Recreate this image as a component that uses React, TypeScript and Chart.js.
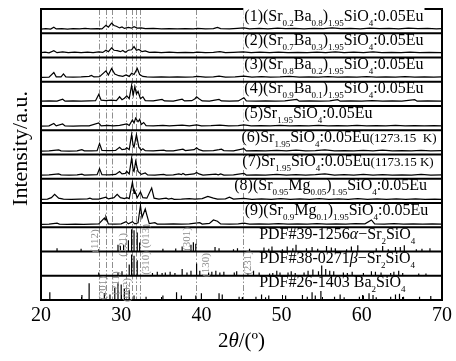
import React, { useEffect, useRef } from 'react';
import { Chart, registerables } from 'chart.js';

Chart.register(...registerables);

// ---------- data ----------
const xMin = 20;
const xMax = 70;
const xTickValues = [20, 30, 40, 50, 60, 70];
const refLines = [27.2, 28.15, 28.8, 30.65, 31.35, 31.85, 32.3, 39.35, 45.2];

// spectra: [2theta, relative intensity within panel (0..1)]
const sample1: [number, number][] = [
  [20, .17], [20.6, .19], [21.2, .17], [21.6, .25], [21.9, .18], [22.6, .19], [23.3, .17], [24, .19], [24.8, .18], [25.5, .2],
  [26.2, .18], [27, .19], [27.6, .18], [28.1, .33], [28.4, .25], [28.8, .42], [29.1, .32], [29.4, .29], [29.8, .22], [30.1, .26],
  [30.4, .2], [30.9, .24], [31.3, .21], [31.6, .27], [32, .21], [32.5, .22], [33, .19], [34, .2], [35, .18], [36, .19],
  [37, .18], [38, .19], [39, .18], [39.5, .2], [40.5, .18], [41.5, .19], [42, .24], [42.4, .19], [43.5, .18], [44.5, .2],
  [45.3, .22], [46, .18], [47.2, .2], [48.3, .18], [49.5, .21], [50.5, .19], [51.6, .2], [52.8, .18], [54, .2], [55.2, .19],
  [56.3, .22], [57.4, .19], [58.6, .2], [59.8, .18], [61, .21], [62.2, .19], [63.4, .2], [64.6, .18], [65.8, .21], [67, .19],
  [68.2, .2], [69.3, .18], [70, .19],
];
const sample2: [number, number][] = [
  [20, .2], [20.5, .22], [21, .19], [21.6, .28], [22, .2], [22.7, .23], [23.4, .2], [24.2, .22], [25, .2], [25.8, .22],
  [26.5, .2], [27.2, .23], [27.7, .21], [28.1, .3], [28.4, .24], [28.8, .4], [29.1, .3], [29.5, .28], [29.9, .24], [30.2, .29],
  [30.5, .22], [30.9, .3], [31.3, .32], [31.6, .45], [31.9, .3], [32.2, .33], [32.6, .24], [33, .27], [33.5, .21], [34.2, .22],
  [35, .2], [36, .22], [37, .2], [38, .21], [39, .2], [39.5, .22], [40.5, .2], [41.5, .21], [42.3, .24], [43, .2],
  [44, .21], [45.2, .23], [46.2, .2], [47.3, .22], [48.5, .2], [49.6, .22], [50.8, .2], [52, .21], [53.2, .2], [54.4, .22],
  [55.5, .2], [56.7, .23], [57.8, .2], [59, .22], [60.2, .2], [61.4, .23], [62.5, .2], [63.7, .21], [64.9, .2], [66, .22],
  [67.2, .2], [68.4, .21], [70, .2],
];
const sample3: [number, number][] = [
  [20, .18], [21, .19], [21.6, .38], [21.9, .2], [22.5, .2], [22.8, .32], [23.1, .2], [24, .19], [25, .2], [26, .22],
  [26.3, .26], [26.6, .2], [27.3, .21], [28.1, .45], [28.4, .28], [28.8, .55], [29.2, .32], [29.7, .25], [30.2, .22], [30.6, .28],
  [31, .22], [31.3, .35], [31.6, .3], [32, .55], [32.3, .3], [32.7, .22], [33.2, .2], [34, .19], [35, .2], [36, .19],
  [37, .2], [38, .19], [39, .2], [39.5, .22], [40.5, .19], [41.5, .2], [42.2, .23], [43, .19], [44.2, .2], [45.3, .23],
  [46.3, .19], [47.5, .21], [48.6, .19], [49.8, .2], [51, .22], [52.2, .19], [53.4, .2], [54.6, .19], [55.8, .21], [57, .19],
  [58.2, .2], [59.4, .19], [60.6, .21], [61.8, .19], [63, .2], [64.2, .19], [65.4, .21], [66.6, .19], [67.8, .2], [69, .19],
  [70, .2],
];
const sample4: [number, number][] = [
  [20, .2], [21, .21], [22, .2], [22.7, .28], [23, .2], [24, .21], [25, .2], [26, .21], [26.8, .22], [27.2, .48],
  [27.5, .24], [28.1, .22], [28.8, .24], [29.4, .22], [29.8, .38], [30.1, .26], [30.4, .32], [30.7, .42], [31, .3], [31.3, .85],
  [31.5, .45], [31.7, .8], [31.9, .5], [32.1, .6], [32.4, .3], [32.7, .38], [33, .22], [34, .21], [35.1, .27], [35.4, .21],
  [36.5, .2], [37.6, .28], [37.9, .21], [38.8, .22], [39.2, .3], [39.4, .38], [39.7, .3], [40.1, .21], [41, .2], [42.2, .27],
  [42.5, .21], [43.5, .2], [44.6, .21], [45.3, .34], [45.6, .21], [46.8, .2], [48, .21], [49.2, .2], [50.4, .21], [51.9, .27],
  [52.2, .2], [53.5, .21], [54.8, .2], [56, .21], [57, .26], [57.3, .2], [58.6, .21], [60, .2], [61.3, .22], [62.6, .2],
  [63.8, .21], [65, .2], [66.6, .26], [66.9, .2], [68.2, .21], [70, .2],
];
const sample5: [number, number][] = [
  [20, .17], [21, .18], [21.6, .28], [21.9, .18], [22.7, .26], [23, .18], [24, .17], [25, .18], [26, .18], [27.2, .3],
  [27.5, .18], [28.3, .2], [29, .18], [29.8, .2], [30.7, .26], [31, .2], [31.4, .42], [31.6, .3], [31.8, .5], [32.1, .35],
  [32.3, .45], [32.5, .24], [32.8, .32], [33.1, .19], [34, .18], [35.2, .2], [36, .18], [37.6, .21], [38.5, .18], [39.4, .22],
  [40, .18], [41.2, .19], [42.3, .21], [43.4, .18], [44.6, .19], [45.3, .22], [46.2, .18], [47.4, .19], [48.6, .18], [49.8, .2],
  [51, .18], [52.2, .19], [53.4, .18], [54.6, .2], [55.8, .18], [57, .19], [58.2, .18], [59.4, .2], [60.6, .18], [61.8, .19],
  [63, .18], [64.2, .2], [65.4, .18], [66.6, .19], [67.8, .18], [69, .19], [70, .18],
];
const sample6: [number, number][] = [
  [20, .14], [21, .15], [22.2, .19], [22.5, .15], [23.5, .14], [24.5, .15], [25.1, .2], [25.4, .15], [26.3, .15], [27, .16],
  [27.3, .45], [27.6, .17], [28.5, .16], [29.3, .17], [29.8, .3], [30.1, .2], [30.5, .22], [30.7, .28], [31, .2], [31.3, .82],
  [31.5, .35], [31.6, .3], [31.9, .82], [32.2, .3], [32.5, .18], [32.7, .24], [33, .16], [34, .15], [35.3, .18], [35.6, .15],
  [36.5, .15], [37.7, .22], [38, .16], [39.1, .2], [39.4, .28], [39.7, .2], [40.2, .15], [41.5, .16], [42.2, .2], [42.5, .22],
  [42.8, .16], [44, .15], [45.3, .24], [45.6, .15], [46.8, .16], [48, .15], [49.4, .17], [50.6, .15], [51.8, .18], [53, .15],
  [54.2, .16], [55.4, .19], [56.6, .15], [57.8, .16], [59, .15], [60.2, .17], [61.4, .15], [62.6, .18], [63.8, .15], [65, .16],
  [66.2, .15], [67.4, .17], [68.6, .15], [70, .16],
];
const sample7: [number, number][] = [
  [20, .15], [21, .16], [22.2, .2], [22.5, .16], [23.5, .15], [24.5, .16], [25.1, .19], [25.4, .15], [26.3, .16], [27, .17],
  [27.3, .42], [27.6, .17], [28.5, .16], [29.3, .18], [29.8, .3], [30.1, .2], [30.5, .22], [30.7, .3], [31, .2], [31.3, .85],
  [31.5, .35], [31.6, .3], [31.8, .72], [32.1, .3], [32.5, .18], [33, .24], [33.3, .16], [34.2, .15], [35.3, .18], [35.6, .15],
  [36.5, .16], [37.2, .2], [37.5, .17], [37.7, .22], [38, .16], [39.1, .2], [39.4, .26], [39.7, .2], [40.2, .15], [41.8, .19],
  [42.1, .16], [42.4, .2], [42.8, .15], [44, .16], [45.3, .22], [45.6, .15], [46.8, .16], [48, .15], [49.4, .18], [50.6, .15],
  [51.8, .17], [53, .15], [54.2, .17], [55.4, .2], [56.6, .15], [57.8, .17], [59, .15], [60.2, .18], [61.4, .15], [62.6, .17],
  [63.8, .15], [65, .16], [66.2, .15], [67.4, .18], [68.6, .15], [70, .16],
];
const sample8: [number, number][] = [
  [20, .15], [20.8, .16], [21.3, .22], [21.7, .36], [22.2, .2], [22.8, .16], [23.8, .15], [24.8, .16], [25.8, .17], [26.1, .2],
  [26.4, .16], [27.2, .16], [28.1, .24], [28.4, .17], [29.1, .22], [29.5, .36], [29.9, .22], [30.4, .18], [30.7, .22], [31, .18],
  [31.4, .86], [31.6, .4], [31.7, .5], [32, .22], [32.4, .46], [32.7, .22], [33.2, .2], [33.8, .62], [34.1, .2], [34.7, .16],
  [35.6, .2], [35.9, .16], [36.3, .19], [36.6, .15], [37.5, .16], [38.5, .18], [39.2, .16], [40.1, .18], [40.8, .27], [41.5, .2],
  [42, .16], [43, .17], [43.5, .24], [44, .16], [45.3, .19], [46.3, .15], [47.5, .17], [48.7, .15], [49.9, .18], [51.1, .15],
  [52.3, .17], [53.5, .15], [54.7, .18], [55.9, .15], [57.1, .17], [58.3, .15], [59.5, .18], [60.7, .15], [61.9, .17], [63.1, .15],
  [64.3, .17], [65.5, .15], [66.7, .17], [67.9, .15], [69.1, .16], [70, .15],
];
const sample9: [number, number][] = [
  [20, .12], [21, .13], [22, .17], [22.3, .13], [23.3, .12], [24.3, .13], [25.3, .12], [26.3, .13], [27.2, .14], [27.9, .38],
  [28, .3], [28.1, .42], [28.4, .14], [29.2, .13], [30, .14], [30.6, .23], [30.9, .14], [31.4, .23], [31.7, .14], [32.1, .18],
  [32.4, .9], [32.6, .4], [33, .75], [33.2, .5], [33.5, .15], [34.2, .19], [34.5, .13], [35.4, .13], [36.5, .14], [37.5, .13],
  [38.5, .14], [39.8, .19], [40.1, .13], [41, .16], [41.5, .3], [42, .25], [42.4, .14], [43.5, .13], [44.6, .14], [45.3, .17],
  [46, .13], [47.2, .14], [48.4, .13], [49.6, .15], [50.8, .13], [52, .14], [53.2, .13], [54.4, .15], [55.6, .13], [56.8, .14],
  [58, .13], [59.2, .15], [60.4, .14], [61.2, .3], [61.6, .14], [62.8, .13], [64, .15], [65.2, .13], [66.4, .14], [67.6, .13],
  [68.8, .14], [70, .13],
];

// reference stick patterns: [2theta, relative height]
const pdf39: [number, number][] = [
  [22, .15], [25, .12], [27.2, .1], [29.6, .3], [29.9, .26], [30.3, .3], [30.9, .5], [31.3, 1.0], [31.6, .95], [32, .85],
  [32.3, .4], [35.2, .12], [36.8, .13], [37.6, .22], [38.7, .3], [39, .42], [39.3, .35], [41.7, .2], [42.2, .15], [44, .1],
  [44.5, .15], [46, .12], [47.8, .18], [48.4, .12], [48.8, .22], [50.1, .1], [50.7, .22], [51.4, .15], [51.8, .3], [53.1, .15],
  [53.8, .2], [54.5, .12], [55.6, .25], [56.2, .18], [56.7, .15], [58.1, .1], [58.7, .22], [59.5, .28], [61.8, .15], [62.6, .25],
  [63.3, .1], [64.2, .2], [64.8, .2], [65.3, .28], [66.8, .1], [67.5, .12], [68.5, .15],
];
const pdf38: [number, number][] = [
  [27.2, .15], [29.6, .15], [30.1, .2], [31, .5], [31.3, .95], [31.6, .9], [32, .7], [33.9, .12], [34.5, .18], [35.1, .12],
  [35.5, .15], [36.1, .18], [36.7, .12], [37.6, .3], [38.2, .15], [38.7, .22], [39.4, .55], [39.8, .22], [40.9, .15], [41.3, .18],
  [41.8, .22], [42.3, .15], [42.8, .18], [44.1, .15], [44.4, .2], [45.8, .12], [46.5, .22], [47.2, .15], [48.5, .1], [48.9, .12],
  [49.4, .22], [49.8, .15], [50.8, .15], [51.2, .2], [51.7, .12], [52.8, .15], [53.3, .22], [53.9, .28], [54.6, .2], [55, .5],
  [55.5, .3], [56, .22], [56.5, .2], [57.7, .15], [58.2, .12], [58.8, .18], [60.2, .12], [61.2, .2], [61.7, .18], [62.4, .15],
  [63.6, .12], [64, .18], [64.6, .22], [65.1, .12], [67.1, .1], [68, .1],
];
const pdf26: [number, number][] = [
  [21.1, .35], [25.1, .22], [26, .75], [27.9, .3], [28.6, .25], [29.2, .55], [29.6, .75], [30, .7], [30.4, .5], [31, .45],
  [31.6, .2], [33.1, .15], [35.2, .2], [36.9, .35], [37.5, .2], [39.3, .2], [40, .3], [42.2, .3], [42.6, .25], [44.7, .15],
  [45.1, .12], [46.8, .15], [47.5, .25], [48, .12], [48.4, .2], [50.5, .2], [52.6, .22], [53.2, .15], [53.8, .35], [54.2, .2],
  [54.9, .4], [56.6, .15], [57.3, .25], [57.8, .12], [59.7, .15], [60.2, .2], [60.9, .3], [61.4, .22], [61.8, .12], [63.6, .15],
  [64.2, .25], [64.7, .28], [65.2, .15], [67.2, .15], [68.6, .18],
];

// label text runs: style 0 normal, 1 subscript, 2 small, 3 italic
type Run = [string, number];
const label1: Run[] = [['(1)(Sr', 0], ['0.2', 1], ['Ba', 0], ['0.8', 1], [')', 0], ['1.95', 1], ['SiO', 0], ['4', 1], [':0.05Eu', 0]];
const label2: Run[] = [['(2)(Sr', 0], ['0.7', 1], ['Ba', 0], ['0.3', 1], [')', 0], ['1.95', 1], ['SiO', 0], ['4', 1], [':0.05Eu', 0]];
const label3: Run[] = [['(3)(Sr', 0], ['0.8', 1], ['Ba', 0], ['0.2', 1], [')', 0], ['1.95', 1], ['SiO', 0], ['4', 1], [':0.05Eu', 0]];
const label4: Run[] = [['(4)(Sr', 0], ['0.9', 1], ['Ba', 0], ['0.1', 1], [')', 0], ['1.95', 1], ['SiO', 0], ['4', 1], [':0.05Eu', 0]];
const label5: Run[] = [['(5)Sr', 0], ['1.95', 1], ['SiO', 0], ['4', 1], [':0.05Eu', 0]];
const label6: Run[] = [['(6)Sr', 0], ['1.95', 1], ['SiO', 0], ['4', 1], [':0.05Eu', 0], ['(1273.15  K)', 2]];
const label7: Run[] = [['(7)Sr', 0], ['1.95', 1], ['SiO', 0], ['4', 1], [':0.05Eu', 0], ['(1173.15 K)', 2]];
const label8: Run[] = [['(8)(Sr', 0], ['0.95', 1], ['Mg', 0], ['0.05', 1], [')', 0], ['1.95', 1], ['SiO', 0], ['4', 1], [':0.05Eu', 0]];
const label9: Run[] = [['(9)(Sr', 0], ['0.9', 1], ['Mg', 0], ['0.1', 1], [')', 0], ['1.95', 1], ['SiO', 0], ['4', 1], [':0.05Eu', 0]];
const label10: Run[] = [['PDF#39-1256', 0], ['α', 3], ['−Sr', 0], ['2', 1], ['SiO', 0], ['4', 1]];
const label11: Run[] = [['PDF#38-0271', 0], ['β', 3], ['−Sr', 0], ['2', 1], ['SiO', 0], ['4', 1]];
const label12: Run[] = [['PDF#26-1403 Ba', 0], ['2', 1], ['SiO', 0], ['4', 1]];
const panelLabels = [label1, label2, label3, label4, label5, label6, label7, label8, label9, label10, label11, label12];
const labelStart = [45.35, 45.35, 45.35, 45.35, 45.35, 45.0, 45.1, 44.1, 45.4, 47.2, 47.2, 47.2];

// Miller index annotations: [text, 2theta, y in panel units]
const hklText = ['(112)', '(121)', '(013)', '(310)', '(301)', '(130)', '(231)', '(201)', '(211)', '(002)'];
const hklX = [26.7, 30.2, 33.15, 33.15, 38.24, 40.6, 45.8, 27.7, 29.4, 30.7];
const hklY = [2.43, 2.27, 2.64, 1.53, 2.52, 1.44, 1.53, 0.5, 0.7, 0.41];

const spectra = [sample1, sample2, sample3, sample4, sample5, sample6, sample7, sample8, sample9];
const sticks = [pdf39, pdf38, pdf26];
const nPanels = 12;

const SERIF = '"Liberation Serif", "Times New Roman", serif';
const runFonts = [`16px ${SERIF}`, `9px ${SERIF}`, `13px ${SERIF}`, `italic 16px ${SERIF}`];

function runsWidth(ctx: CanvasRenderingContext2D, runs: Run[]) {
  let w = 0;
  for (const [t, s] of runs) { ctx.font = runFonts[s]; w += ctx.measureText(t).width; }
  return w;
}
function drawRuns(ctx: CanvasRenderingContext2D, runs: Run[], x0: number, base: number) {
  let x = x0;
  for (const [t, s] of runs) {
    ctx.font = runFonts[s];
    ctx.fillText(t, x, base + (s === 1 ? 5 : 0));
    x += ctx.measureText(t).width;
  }
}

const overlay = {
  id: 'overlay',
  beforeDatasetsDraw(chart: any) {
    const { ctx, chartArea: a, scales } = chart;
    const x = scales.x;
    ctx.save();
    ctx.strokeStyle = '#8f8f8f';
    ctx.lineWidth = 1;
    ctx.setLineDash([6, 2, 1.5, 2]);
    for (const d of refLines) {
      const px = Math.round(x.getPixelForValue(d)) + 0.5;
      ctx.beginPath(); ctx.moveTo(px, a.top); ctx.lineTo(px, a.bottom); ctx.stroke();
    }
    ctx.restore();
  },
  afterDatasetsDraw(chart: any) {
    const { ctx, chartArea: a, scales } = chart;
    const x = scales.x, y = scales.y;
    ctx.save();
    ctx.strokeStyle = '#000';
    ctx.lineWidth = 2;
    ctx.beginPath(); ctx.moveTo(a.left, a.top); ctx.lineTo(a.right, a.top); ctx.stroke();
    ctx.fillStyle = '#000';
    ctx.textBaseline = 'alphabetic';
    ctx.textAlign = 'left';
    panelLabels.forEach((runs, k) => {
      const top = y.getPixelForValue(nPanels - k);
      const base = top + 11.5;
      const x0 = x.getPixelForValue(labelStart[k]);
      const w = runsWidth(ctx, runs);
      ctx.fillStyle = '#fff';
      const bt = k === 0 ? 0 : top + 1.5;
      ctx.fillRect(x0 - 1, bt, w + 2, base + 2.5 - bt);
      ctx.fillStyle = '#000';
      drawRuns(ctx, runs, x0, base);
    });
    ctx.strokeStyle = '#000';
    ctx.lineWidth = 2;
    for (let v = 0; v < nPanels; v++) {
      const py = y.getPixelForValue(v);
      ctx.beginPath(); ctx.moveTo(a.left, py); ctx.lineTo(a.right, py); ctx.stroke();
    }
    ctx.beginPath(); ctx.moveTo(a.left, a.top - 1); ctx.lineTo(a.left, a.bottom + 1); ctx.stroke();
    ctx.beginPath(); ctx.moveTo(a.right, a.top - 1); ctx.lineTo(a.right, a.bottom + 1); ctx.stroke();
    ctx.lineWidth = 1;
    for (let d = xMin; d <= xMax; d += 5) {
      const px = Math.round(x.getPixelForValue(d)) + 0.5;
      const len = d % 10 === 0 ? 5 : 3;
      ctx.beginPath(); ctx.moveTo(px, a.bottom); ctx.lineTo(px, a.bottom - len); ctx.stroke();
    }
    ctx.fillStyle = '#8c8c8c';
    ctx.font = `11px ${SERIF}`;
    ctx.textAlign = 'center';
    ctx.textBaseline = 'middle';
    hklText.forEach((t, i) => {
      ctx.save();
      ctx.translate(x.getPixelForValue(hklX[i]), y.getPixelForValue(hklY[i]));
      ctx.rotate(-Math.PI / 2);
      ctx.fillText(t, 0, 0);
      ctx.restore();
    });
    ctx.fillStyle = '#000';
    ctx.save();
    ctx.translate(21, (a.top + a.bottom) / 2 - 6);
    ctx.rotate(-Math.PI / 2);
    ctx.font = `22px ${SERIF}`;
    ctx.textAlign = 'center';
    ctx.textBaseline = 'middle';
    ctx.fillText('Intensity/a.u.', 0, 0);
    ctx.restore();
    const xr: [string, string][] = [['2', `21px ${SERIF}`], ['θ', `italic 21px ${SERIF}`], ['/(º)', `21px ${SERIF}`]];
    let tw = 0;
    xr.forEach(([t, f]) => { ctx.font = f; tw += ctx.measureText(t).width; });
    let cx = (a.left + a.right) / 2 - tw / 2;
    ctx.textAlign = 'left';
    ctx.textBaseline = 'middle';
    xr.forEach(([t, f]) => { ctx.font = f; ctx.fillText(t, cx, 341); cx += ctx.measureText(t).width; });
    ctx.restore();
  },
};

export default function App() {
  const ref = useRef<HTMLCanvasElement | null>(null);
  useEffect(() => {
    if (!ref.current) return;
    const datasets: any[] = [];
    spectra.forEach((s, k) => {
      const off = nPanels - 1 - k;
      datasets.push({
        data: s.map(([px, v]) => ({ x: px, y: off + v })),
        borderColor: '#000', borderWidth: 1.2, pointRadius: 0, tension: 0, fill: false,
      });
    });
    sticks.forEach((s, j) => {
      const off = nPanels - 1 - (spectra.length + j);
      const pts: any[] = [];
      s.forEach(([p, h]) => { pts.push({ x: p, y: off }, { x: p, y: off + h * 0.92 }, { x: p, y: null }); });
      datasets.push({ data: pts, borderColor: '#000', borderWidth: 1.2, pointRadius: 0, spanGaps: false, fill: false });
    });
    const chart = new Chart(ref.current, {
      type: 'line',
      data: { datasets },
      options: {
        responsive: false,
        animation: false,
        events: [],
        layout: { padding: { left: 41, right: 10, top: 9, bottom: 29 } },
        plugins: { legend: { display: false }, tooltip: { enabled: false } },
        scales: {
          x: {
            type: 'linear', min: xMin, max: xMax,
            afterBuildTicks: (sc: any) => { sc.ticks = xTickValues.map((v) => ({ value: v })); },
            ticks: { color: '#000', font: { family: SERIF, size: 20 }, padding: 4, maxRotation: 0 },
            grid: { display: false, drawTicks: false },
            border: { display: false },
          },
          y: { display: false, min: 0, max: nPanels },
        },
      },
      plugins: [overlay],
    });
    return () => chart.destroy();
  }, []);
  return (
    <div style={{ position: 'fixed', left: 0, top: 0, width: 456, height: 361, background: '#fff' }}>
      <canvas ref={ref} width={456} height={361} />
    </div>
  );
}
